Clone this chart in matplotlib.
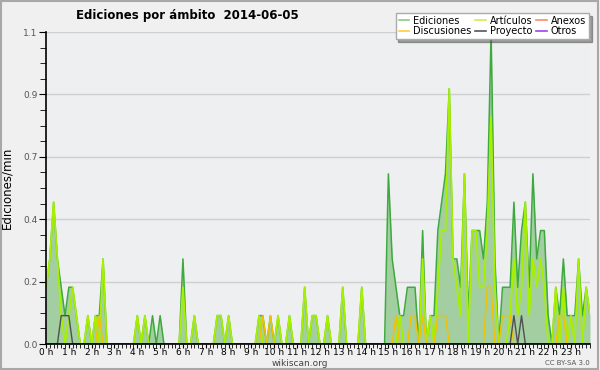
import matplotlib
matplotlib.use("Agg")
import matplotlib.pyplot as plt
from matplotlib.ticker import FixedLocator, MultipleLocator, FormatStrFormatter
from matplotlib.patches import Rectangle
import numpy as np

# edits per minute, one value per 10-minute slot (6 per hour, 144 in total)
ediciones = [
    0.2, 0.3, 0.5, 0.3, 0.2, 0.1,   # 0 h
    0.2, 0.2, 0.1, 0.0, 0.0, 0.1,   # 1 h
    0.0, 0.1, 0.1, 0.3, 0.0, 0.0,   # 2 h
    0.0, 0.0, 0.0, 0.0, 0.0, 0.0,   # 3 h
    0.1, 0.0, 0.1, 0.0, 0.1, 0.0,   # 4 h
    0.1, 0.0, 0.0, 0.0, 0.0, 0.0,   # 5 h
    0.3, 0.0, 0.0, 0.1, 0.0, 0.0,   # 6 h
    0.0, 0.0, 0.0, 0.1, 0.1, 0.0,   # 7 h
    0.1, 0.0, 0.0, 0.0, 0.0, 0.0,   # 8 h
    0.0, 0.0, 0.1, 0.1, 0.0, 0.1,   # 9 h
    0.0, 0.1, 0.0, 0.0, 0.1, 0.0,   # 10 h
    0.0, 0.0, 0.2, 0.0, 0.1, 0.1,   # 11 h
    0.0, 0.0, 0.1, 0.0, 0.0, 0.0,   # 12 h
    0.2, 0.0, 0.0, 0.0, 0.0, 0.2,   # 13 h
    0.0, 0.0, 0.0, 0.0, 0.0, 0.0,   # 14 h
    0.6, 0.3, 0.2, 0.1, 0.1, 0.2,   # 15 h
    0.2, 0.2, 0.0, 0.4, 0.0, 0.1,   # 16 h
    0.1, 0.4, 0.5, 0.6, 0.9, 0.3,   # 17 h
    0.3, 0.2, 0.6, 0.1, 0.4, 0.4,   # 18 h
    0.4, 0.3, 0.5, 1.1, 0.3, 0.0,   # 19 h
    0.2, 0.2, 0.2, 0.5, 0.2, 0.4,   # 20 h
    0.5, 0.2, 0.6, 0.3, 0.4, 0.4,   # 21 h
    0.1, 0.0, 0.2, 0.1, 0.3, 0.1,   # 22 h
    0.1, 0.1, 0.3, 0.1, 0.2, 0.1,   # 23 h
]
articulos = [
    0.2, 0.3, 0.5, 0.3, 0.1, 0.0,
    0.1, 0.2, 0.1, 0.0, 0.0, 0.1,
    0.0, 0.1, 0.0, 0.3, 0.0, 0.0,
    0.0, 0.0, 0.0, 0.0, 0.0, 0.0,
    0.1, 0.0, 0.1, 0.0, 0.0, 0.0,
    0.0, 0.0, 0.0, 0.0, 0.0, 0.0,
    0.2, 0.0, 0.0, 0.1, 0.0, 0.0,
    0.0, 0.0, 0.0, 0.1, 0.1, 0.0,
    0.1, 0.0, 0.0, 0.0, 0.0, 0.0,
    0.0, 0.0, 0.1, 0.0, 0.0, 0.0,
    0.0, 0.1, 0.0, 0.0, 0.1, 0.0,
    0.0, 0.0, 0.2, 0.0, 0.1, 0.1,
    0.0, 0.0, 0.1, 0.0, 0.0, 0.0,
    0.2, 0.0, 0.0, 0.0, 0.0, 0.2,
    0.0, 0.0, 0.0, 0.0, 0.0, 0.0,
    0.0, 0.0, 0.0, 0.1, 0.0, 0.0,
    0.0, 0.0, 0.0, 0.3, 0.0, 0.1,
    0.0, 0.2, 0.4, 0.4, 0.9, 0.3,
    0.2, 0.1, 0.6, 0.0, 0.4, 0.4,
    0.2, 0.2, 0.4, 0.8, 0.2, 0.0,
    0.0, 0.0, 0.1, 0.3, 0.1, 0.2,
    0.5, 0.1, 0.3, 0.2, 0.3, 0.2,
    0.0, 0.0, 0.2, 0.0, 0.2, 0.0,
    0.1, 0.0, 0.3, 0.0, 0.2, 0.1,
]
discusiones = [0.0] * 144
for i, v in [(14, 0.1), (57, 0.1), (59, 0.1), (92, 0.1), (96, 0.1), (97, 0.1),
             (99, 0.1), (103, 0.1), (104, 0.1), (105, 0.1), (116, 0.2), (117, 0.2),
             (120, 0.1), (121, 0.1), (122, 0.1), (135, 0.1), (136, 0.1)]:
    discusiones[i] = v
proyecto = [0.0] * 144
for i, v in [(4, 0.1), (5, 0.1), (6, 0.1), (123, 0.1), (125, 0.1)]:
    proyecto[i] = v
anexos = [0.0] * 144
otros = [0.0] * 144

hour_labels = ["%d h" % h for h in range(24)]

x = np.arange(144) / 6.0

fig = plt.figure(figsize=(6, 3.7), dpi=100, facecolor="#f0f0f0")
fig.patches.append(Rectangle((0.002, 0.003), 0.995, 0.994, transform=fig.transFigure,
                             fill=False, edgecolor="#a8a8a8", linewidth=1.5))
ax = fig.add_axes([46 / 600, 26 / 370, 544 / 600, 312 / 370])
ax.set_facecolor("#eeeff1")

ax.fill_between(x, ediciones, color="#a2cea2", zorder=2, linewidth=0)
ax.plot(x, ediciones, color="#3eaa3e", lw=1.1, zorder=3)
ax.plot(x, articulos, color="#a6f000", lw=1.3, zorder=4)
ax.plot(x, discusiones, color="#f2c200", lw=1.1, zorder=5)
ax.plot(x, proyecto, color="#505050", lw=1.0, zorder=6)
ax.plot(x, anexos, color="#ff8060", lw=1.0, zorder=1)
ax.plot(x, otros, color="#9040e0", lw=1.0, zorder=1)

ax.set_xlim(0, 143 / 6.0)
ax.set_ylim(0, 1.1)
yt = np.linspace(0, 1.1, 6)
ax.yaxis.set_major_locator(FixedLocator(yt))
ax.yaxis.set_minor_locator(MultipleLocator(0.055))
ax.yaxis.set_major_formatter(FormatStrFormatter("%.1f"))
ax.set_xticks(range(24))
ax.set_xticklabels(hour_labels)
ax.xaxis.set_minor_locator(MultipleLocator(1 / 6.0))
ax.grid(axis="y", color="#cfcfcf", lw=1, zorder=0)
ax.set_axisbelow(True)
for s in ["top", "right"]:
    ax.spines[s].set_visible(False)
for s in ["left", "bottom"]:
    ax.spines[s].set_linewidth(1.2)
    ax.spines[s].set_zorder(10)
ax.tick_params(axis="y", which="major", length=5, labelsize=6.5, labelcolor="#555555", pad=1)
ax.tick_params(axis="y", which="minor", length=4)
ax.tick_params(axis="x", which="both", length=3, labelsize=6.5, pad=0)
ax.set_ylabel("Ediciones/min", fontsize=8.5, labelpad=7)

fig.text(187 / 600, 1 - 15 / 370, "Ediciones por ámbito  2014-06-05", fontsize=8.5,
         fontweight="bold", ha="center", va="center")
fig.text(0.5, 1 - 364 / 370, "wikiscan.org", fontsize=6.5, color="#444444", ha="center", va="center")
fig.text(590 / 600, 1 - 363 / 370, "CC BY-SA 3.0", fontsize=5, color="#555555",
         ha="right", va="center")

handles = [
    plt.Line2D([], [], color="#88cc88", lw=1.2),
    plt.Line2D([], [], color="#ffcc44", lw=1.2),
    plt.Line2D([], [], color="#ccee55", lw=1.2),
    plt.Line2D([], [], color="#555555", lw=1.2),
    plt.Line2D([], [], color="#ff8866", lw=1.2),
    plt.Line2D([], [], color="#9944ee", lw=1.2),
]
names = ["Ediciones", "Discusiones", "Artículos", "Proyecto", "Anexos", "Otros"]
leg = fig.legend(handles, names, ncol=3, loc="upper right", bbox_to_anchor=(594 / 600, 1 - 8 / 370),
                 fontsize=7, frameon=True, fancybox=False, shadow=True, handlelength=1.1,
                 handletextpad=0.4, columnspacing=0.4, labelspacing=0.05, borderpad=0.3)
leg.get_frame().set_edgecolor("#aaaaaa")
leg.get_frame().set_facecolor("white")

fig.savefig("out.png", dpi=100, facecolor=fig.get_facecolor())
